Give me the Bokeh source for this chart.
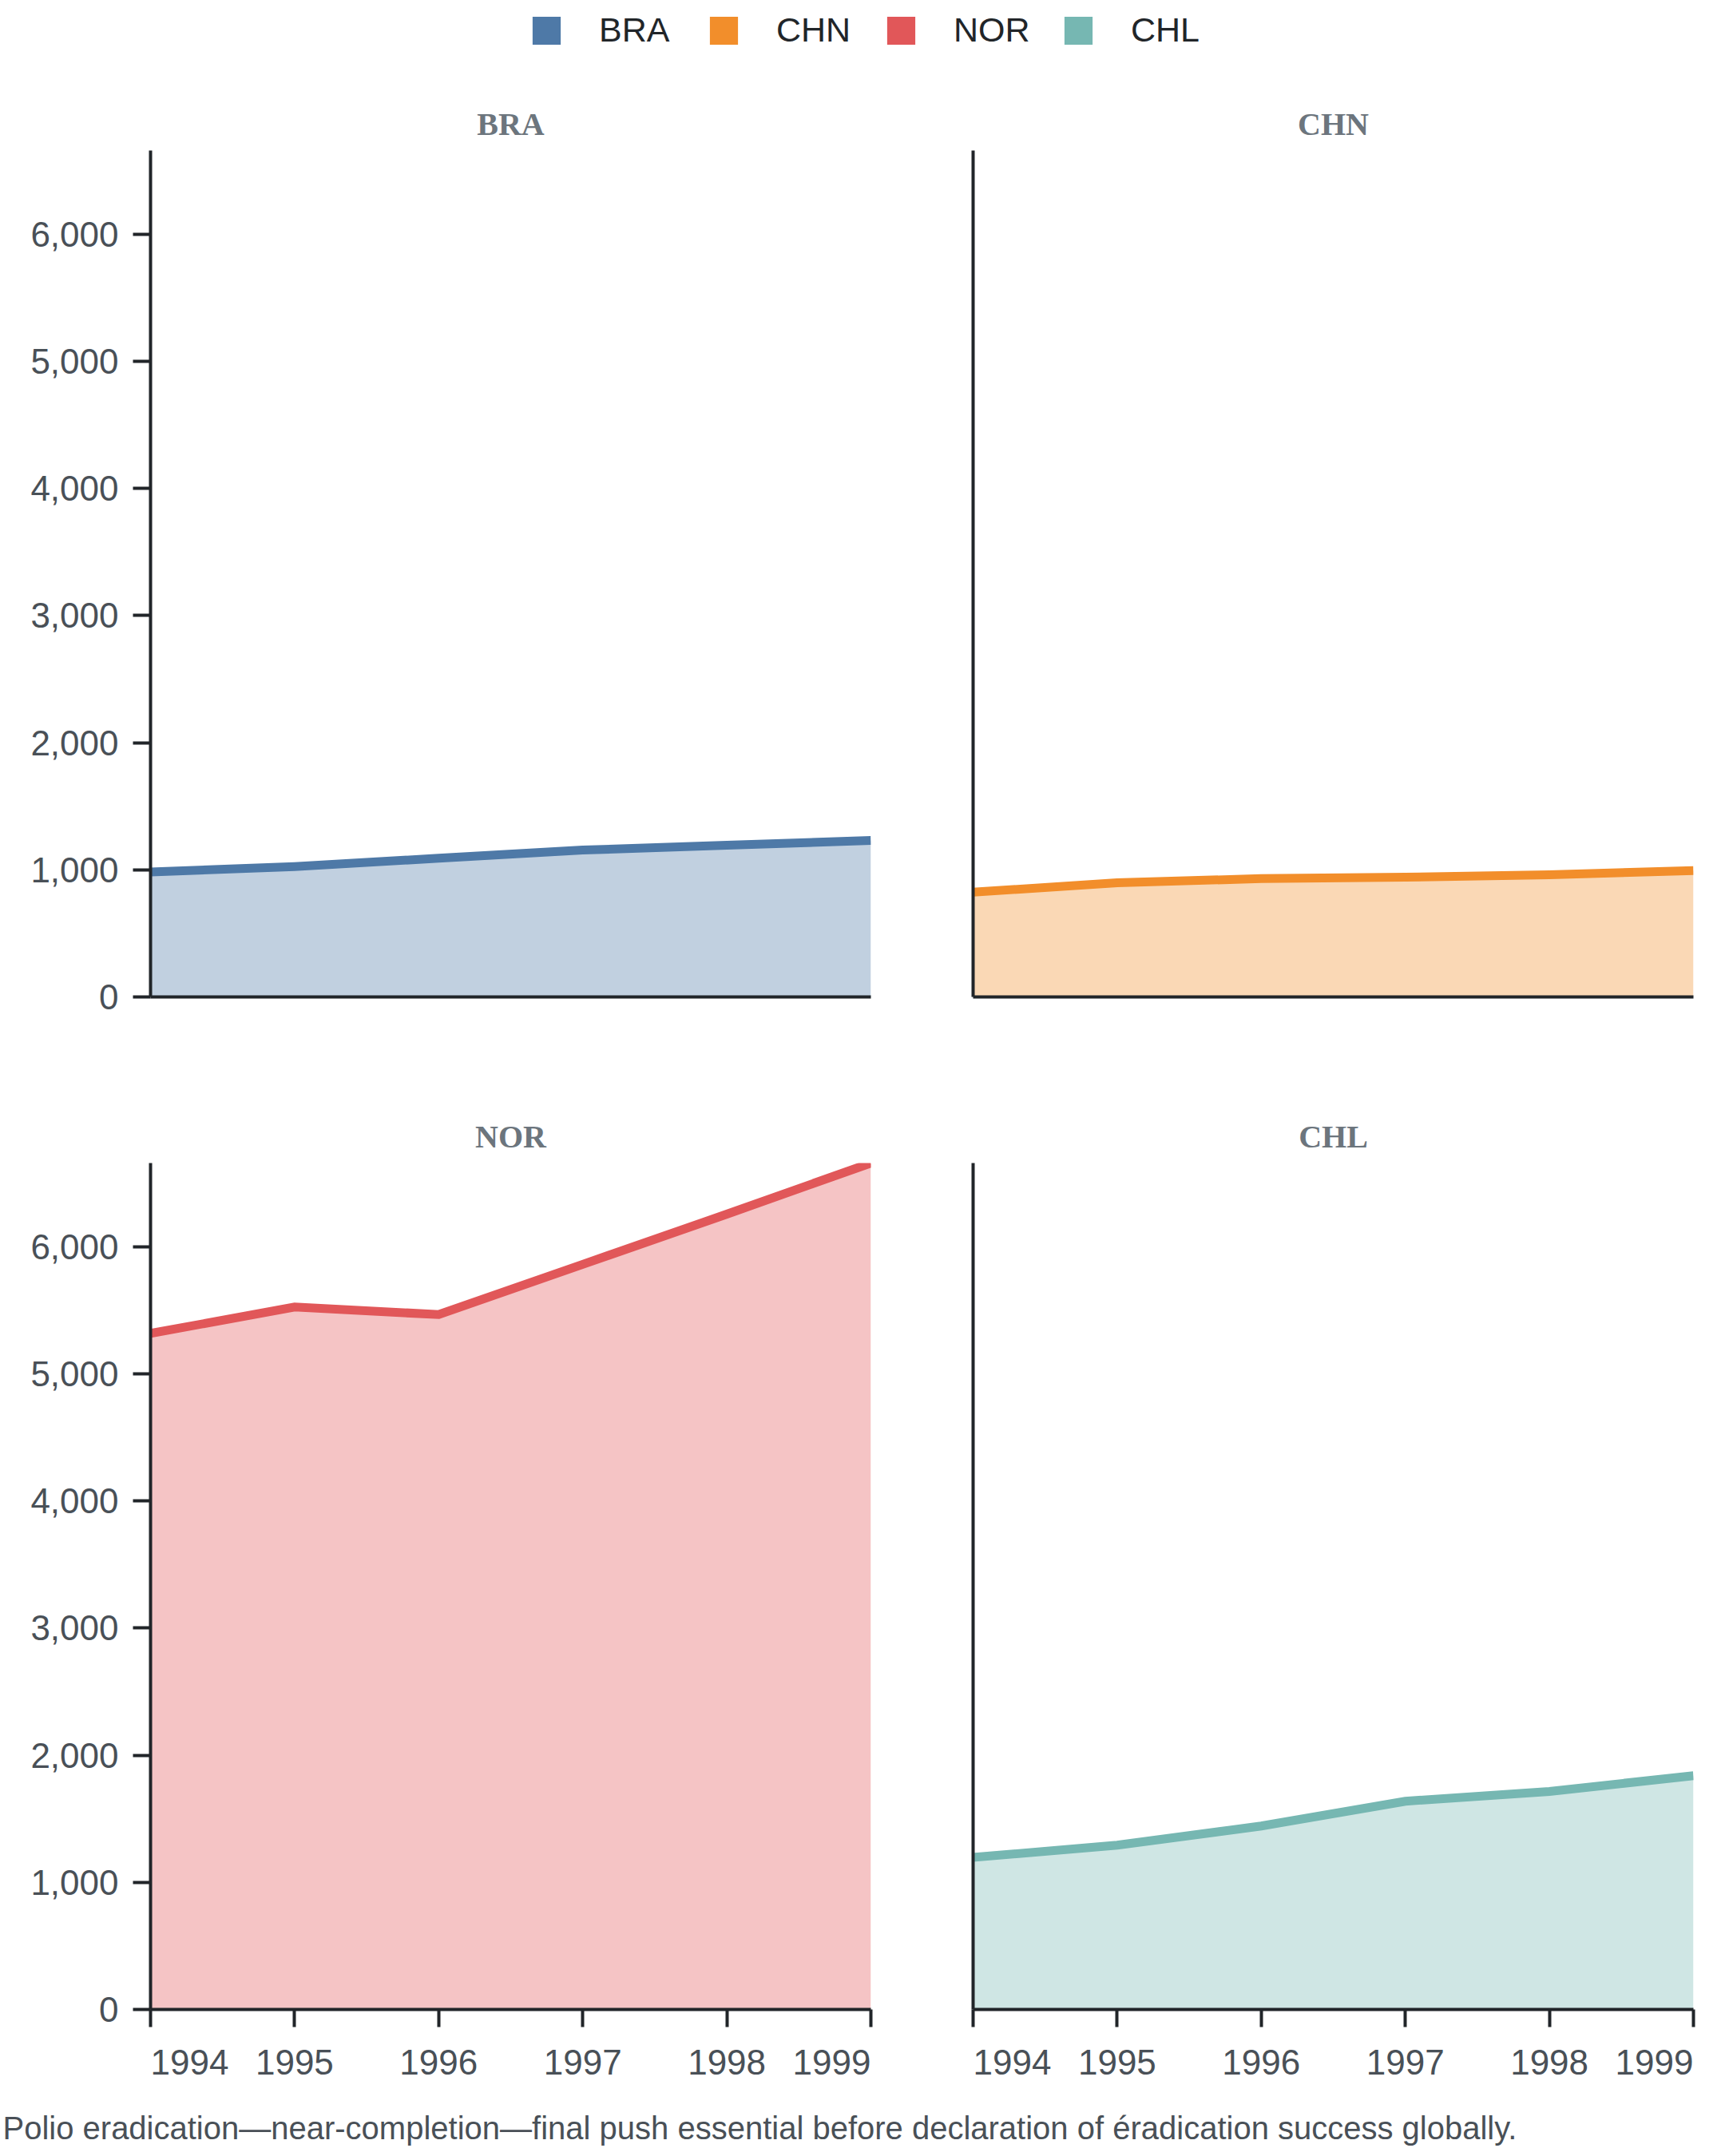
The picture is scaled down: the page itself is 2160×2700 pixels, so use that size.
from bokeh.plotting import figure
from bokeh.models import (Range1d, FixedTicker, NumeralTickFormatter, Legend,
                          LegendItem, Label)
from bokeh.layouts import column, row
from bokeh.embed import file_html
from bokeh.resources import INLINE

# ---- data ----
years = [1994, 1995, 1996, 1997, 1998, 1999]
countries = ["BRA", "CHN", "NOR", "CHL"]
bra = [983, 1025, 1091, 1155, 1193, 1231]
chn = [824, 898, 931, 942, 961, 994]
nor = [5318, 5525, 5466, 5861, 6256, 6658]
chl = [1196, 1292, 1443, 1638, 1715, 1839]
series = [bra, chn, nor, chl]
colors = ["#4e79a7", "#f28e2b", "#e15759", "#76b7b2"]
y_ticks = [0, 1000, 2000, 3000, 4000, 5000, 6000]
x_tick_labels = ["1994", "1995", "1996", "1997", "1998", "1999"]
caption = "Polio eradication\u2014near-completion\u2014final push essential before declaration of \u00e9radication success globally."

ymax = max(max(s) for s in series)
xr = Range1d(years[0], years[-1])
yr = Range1d(0, ymax)

AXIS_COLOR = "#212529"
LABEL_COLOR = "#495057"
SANS = "Liberation Sans"

FRAME_W = 902
# end labels are kept inside the axis extent (first left-aligned, last right-aligned)
half_label = 49.0 / (FRAME_W / (years[-1] - years[0]))
label_pos = [float(y) for y in years]
label_pos[0] = years[0] + half_label
label_pos[-1] = years[-1] - half_label


def style_axis(ax):
    ax.axis_line_color = AXIS_COLOR
    ax.axis_line_width = 4
    ax.major_tick_line_color = AXIS_COLOR
    ax.major_tick_line_width = 4
    ax.major_tick_in = 0
    ax.major_tick_out = 22
    ax.minor_tick_line_color = None
    ax.major_label_text_font = SANS
    ax.major_label_text_font_size = "44px"
    ax.major_label_text_color = LABEL_COLOR


def make_panel(idx, left, bottom):
    name = countries[idx]
    vals = series[idx]
    col = colors[idx]
    if left:
        w, bl, br = 1140, 188, 50
    else:
        w, bl, br = 1020, 78, 40
    if bottom:
        h, bt, bb = 1292, 122, 110
    else:
        h, bt, bb = 1268, 122, 86
    p = figure(width=w, height=h, x_range=xr, y_range=yr, title=name,
               output_backend="svg", toolbar_location=None,
               min_border_left=bl, min_border_right=br,
               min_border_top=bt, min_border_bottom=bb)
    p.varea(x=years, y1=0, y2=vals, fill_color=col, fill_alpha=0.35)
    p.line(x=years, y=vals, line_color=col, line_width=11, line_join="miter")

    p.title.text_font = "Liberation Serif"
    p.title.text_font_style = "bold"
    p.title.text_font_size = "40px"
    p.title.text_color = "#6c757d"
    p.title.align = "center"
    p.title.standoff = 22

    p.xgrid.visible = False
    p.ygrid.visible = False
    p.outline_line_color = None
    p.background_fill_color = "white"
    p.border_fill_color = "white"

    style_axis(p.xaxis[0])
    style_axis(p.yaxis[0])

    if bottom:
        ax = p.xaxis[0]
        ax.ticker = FixedTicker(ticks=label_pos, minor_ticks=years)
        ax.major_label_overrides = dict(zip(label_pos, x_tick_labels))
        ax.major_tick_line_color = None
        ax.minor_tick_line_color = AXIS_COLOR
        ax.minor_tick_line_width = 4
        ax.minor_tick_in = 0
        ax.minor_tick_out = 22
        ax.major_label_standoff = 28
    else:
        p.xaxis.ticker = FixedTicker(ticks=[])
    if left:
        p.yaxis.ticker = FixedTicker(ticks=y_ticks)
        p.yaxis.formatter = NumeralTickFormatter(format="0,0")
        p.yaxis.major_label_standoff = 18
    else:
        p.yaxis.ticker = FixedTicker(ticks=[])
    return p


tl = make_panel(0, True, False)
tr = make_panel(1, False, False)
bl = make_panel(2, True, True)
br = make_panel(3, False, True)

# ---- legend strip ----
lf = figure(width=2160, height=66, x_range=Range1d(0, 1), y_range=Range1d(-2, -1),
            output_backend="svg", toolbar_location=None, min_border=0)
lf.axis.visible = False
lf.xgrid.visible = False
lf.ygrid.visible = False
lf.outline_line_color = None
items = []
for name, vals, col in zip(countries, series, colors):
    r = lf.varea(x=years, y1=0, y2=vals, fill_color=col, fill_alpha=1.0)
    items.append(LegendItem(label=name, renderers=[r]))
legend = Legend(items=items, orientation="horizontal", location=(662, 4),
                glyph_width=44, glyph_height=44, label_standoff=44,
                label_width=100, spacing=34, padding=0, margin=0,
                border_line_color=None, background_fill_alpha=0,
                label_text_font=SANS, label_text_font_size="43px",
                label_text_color=AXIS_COLOR)
lf.add_layout(legend, "center")

# ---- caption strip ----
cf = figure(width=2160, height=72, output_backend="svg", toolbar_location=None,
            min_border=0)
cf.axis.visible = False
cf.xgrid.visible = False
cf.ygrid.visible = False
cf.outline_line_color = None
cf.add_layout(Label(x=3, y=34, x_units="screen", y_units="screen", text=caption,
                    text_font=SANS, text_font_size="40px",
                    text_color=LABEL_COLOR, text_baseline="alphabetic"))

layout = column(lf, row(tl, tr), row(bl, br), cf)

open("out.html", "w").write(file_html(layout, INLINE))
